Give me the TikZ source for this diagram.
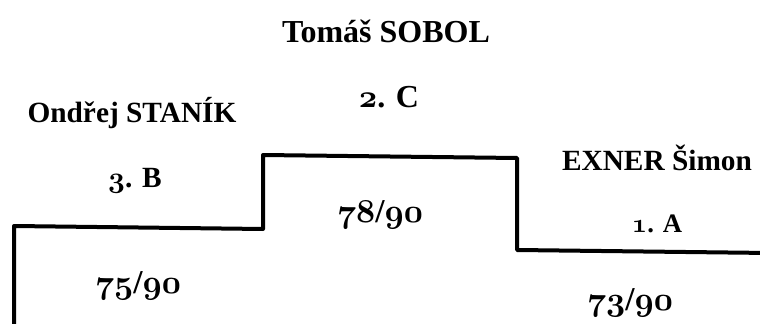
\RequirePackage{fix-cm}
\documentclass[tikz,border=0pt]{standalone}
\usepackage{fontspec}
\setmainfont{Liberation Serif}
% old style figures for the class and score numbers
\newcommand{\osn}[1]{{\fontencoding{OML}\fontfamily{cmm}\fontseries{b}\fontshape{it}\selectfont #1}}

\begin{document}
\begin{tikzpicture}[x=0.75pt,y=-0.75pt,
    podium/.style={line width=3pt,line join=round},
    pname/.style={anchor=base,font=\bfseries\fontsize{#1}{#1}\selectfont},
    pscore/.style={anchor=base,font=\bfseries\fontsize{25}{28}\selectfont}]
    \useasboundingbox (0,0) rectangle (760,324);

    \draw[podium] (14,330) -- (14,226) -- (263,229) -- (263,155)
        -- (517,158) -- (517,250) -- (770,253);

    \node[pname=24] (sobol) at (386,43) {Tomáš SOBOL};
    \node[pname=24] (classC) at (389,108) {\osn{2}. C};
    \node[pscore] (scoreC) at (380,222) {\osn{78}/\osn{90}};

    \node[pname=22] (stanik) at (132,123) {Ondřej STANÍK};
    \node[pname=22] (classB) at (135,188) {\osn{3}. B};
    \node[pscore] (scoreB) at (138,293) {\osn{75}/\osn{90}};

    \node[pname=22] (exner) at (657,171) {EXNER Šimon};
    \node[pname=20] (classA) at (657,232) {\osn{1}. A};
    \node[pscore] (scoreA) at (630,310) {\osn{73}/\osn{90}};
\end{tikzpicture}
\end{document}
